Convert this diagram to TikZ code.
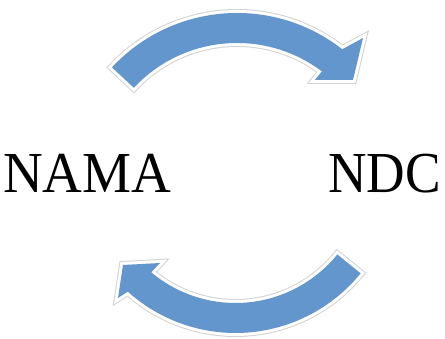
\documentclass[tikz,border=0pt]{standalone}
\usepackage{fontspec}
\setmainfont{Liberation Serif}
\usetikzlibrary{calc}

\definecolor{arrowblue}{RGB}{99,150,205}

\begin{document}
\begin{tikzpicture}[x=1pt,y=1pt,
    word/.style={font=\fontsize{58}{60}\selectfont, inner sep=0pt},
    curvearrow/.style={fill=arrowblue, line join=miter,
        preaction={draw=gray!35, line width=8pt, line join=miter},
        preaction={draw=white, line width=6pt, line join=miter}}]
    \useasboundingbox (0,0) rectangle (445,339);

    % labels
    \node[word, anchor=base west] (nama) at (3,146) {\scalebox{0.95}[1]{NAMA}};
    \node[word, anchor=base east] (ndc) at (441,146) {\scalebox{0.92}[1]{NDC}};

    % top arrow, NAMA to NDC
    \coordinate (tc) at (237,155);
    \path[curvearrow] ($(tc)+(137:141)$) -- ($(tc)+(137:171)$)
        arc[start angle=137, end angle=52, radius=171]
        -- (363,301) -- (353,259) -- (315,259)
        -- ($(tc)+(53:141)$)
        arc[start angle=53, end angle=137, radius=141] -- cycle;

    % bottom arrow, NDC to NAMA
    \coordinate (bc) at (235.5,167);
    \path[curvearrow] ($(bc)+(-39:131)$) -- ($(bc)+(-39:161)$)
        arc[start angle=-39, end angle=-132, radius=161]
        -- (118,41) -- (123,74) -- (160,76)
        -- ($(bc)+(-130:131)$)
        arc[start angle=-130, end angle=-39, radius=131] -- cycle;
\end{tikzpicture}
\end{document}
